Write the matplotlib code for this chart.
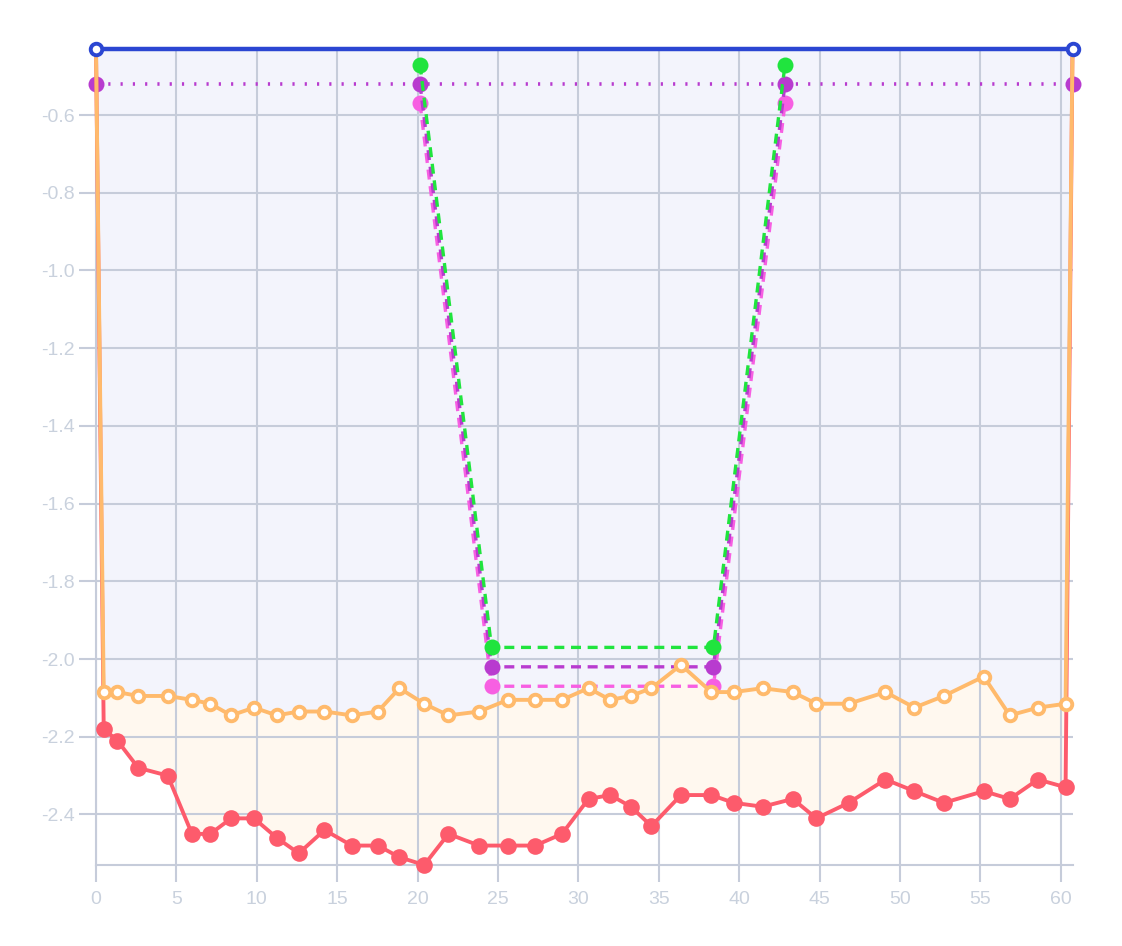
import matplotlib
matplotlib.use("Agg")
import matplotlib.pyplot as plt

plt.rcParams['font.family'] = ['Liberation Sans', 'DejaVu Sans']
plt.rcParams['axes.unicode_minus'] = False

# ==================== data ====================
X_END = 60.73
TOP = -0.43

blue_x = [0, X_END]
blue_y = [TOP, TOP]

band_x = [0.48, 1.33, 2.63, 4.46, 5.97, 7.11, 8.40, 9.83, 11.24, 12.61,
          14.21, 15.91, 17.53, 18.87, 20.41, 21.92, 23.83, 25.62, 27.32, 28.98,
          30.63, 31.98, 33.27, 34.54, 36.38, 38.27, 39.66, 41.46, 43.33, 44.80,
          46.81, 49.10, 50.90, 52.73, 55.21, 56.83, 58.58, 60.30]
orange_y = [-2.085, -2.085, -2.095, -2.095, -2.105, -2.115, -2.145, -2.125, -2.145, -2.135,
            -2.135, -2.145, -2.135, -2.075, -2.115, -2.145, -2.135, -2.105, -2.105, -2.105,
            -2.075, -2.105, -2.095, -2.075, -2.015, -2.085, -2.085, -2.075, -2.085, -2.115,
            -2.115, -2.085, -2.125, -2.095, -2.045, -2.145, -2.125, -2.115]
red_y = [-2.18, -2.21, -2.28, -2.30, -2.45, -2.45, -2.41, -2.41, -2.46, -2.50,
         -2.44, -2.48, -2.48, -2.51, -2.53, -2.45, -2.48, -2.48, -2.48, -2.45,
         -2.36, -2.35, -2.38, -2.43, -2.35, -2.35, -2.37, -2.38, -2.36, -2.41,
         -2.37, -2.31, -2.34, -2.37, -2.34, -2.36, -2.31, -2.33]

dot_x = [0, X_END]
dot_y = [-0.52, -0.52]

trap_x = [20.15, 24.6, 38.4, 42.85]
green_y = [-0.47, -1.97, -1.97, -0.47]
purple_y = [-0.52, -2.02, -2.02, -0.52]
magenta_y = [-0.57, -2.07, -2.07, -0.57]

x_ticks = list(range(0, 61, 5))
y_ticks = [-0.6, -0.8, -1.0, -1.2, -1.4, -1.6, -1.8, -2.0, -2.2, -2.4]

# ==================== colours ====================
GRID = '#c6ccda'
LABEL = '#c9d1dd'
BLUE = '#2b46d2'
ORANGE = '#ffba6c'
RED = '#fd5b6c'
GREEN = '#20e43e'
PURPLE = '#b83bcf'
MAGENTA = '#f75fe2'

# full series, closed at the top corners
ox = [0] + band_x + [X_END]
oy = [TOP] + orange_y + [TOP]
rx = [0] + band_x + [X_END]
ry = [TOP] + red_y + [TOP]
inner = list(range(1, len(ox) - 1))

fig = plt.figure(figsize=(11.22, 9.46), dpi=100)
ax = fig.add_axes([96 / 1122, 1 - 865 / 946, (1072.5 - 96) / 1122, (865 - 49) / 946])

# --- fills ---
ax.fill(blue_x + ox[::-1], blue_y + oy[::-1], color='#f3f4fc', lw=0, zorder=0.2)
ax.fill(ox + rx[::-1], oy + ry[::-1], color='#fff8ef', lw=0, zorder=0.3)

# --- trapezoids ---
dash = (3, 2)
for ys, c in [(magenta_y, MAGENTA), (purple_y, PURPLE), (green_y, GREEN)]:
    ax.plot(trap_x, ys, color=c, lw=2.4, dashes=dash, marker='o', ms=11.5,
            mew=0, zorder=3)

ax.plot(dot_x, dot_y, color=PURPLE, lw=2.6, dashes=(0.6, 2.8),
        dash_capstyle='butt', marker='o', ms=11.5, mew=0, zorder=3, clip_on=False)

# --- band lines ---
ax.plot(rx, ry, color=RED, lw=2.8, marker='o', ms=12, mew=0, zorder=4,
        markevery=inner, clip_on=False)
ax.plot(ox, oy, color=ORANGE, lw=2.8, marker='o', ms=8.3, mfc='white',
        mec=ORANGE, mew=2.8, zorder=5, markevery=inner, clip_on=False)
ax.plot(blue_x, blue_y, color=BLUE, lw=3.2, marker='o', ms=8.3, mfc='white',
        mec=BLUE, mew=2.8, zorder=6, clip_on=False)

# --- axes styling ---
ax.set_xlim(0, X_END)
ax.set_ylim(min(red_y), TOP)
ax.set_xticks(x_ticks)
ax.set_yticks(y_ticks)
ax.set_yticklabels([f'{v:.1f}' for v in y_ticks])
ax.grid(True, color=GRID, lw=1.5)
ax.set_axisbelow(True)
ax.tick_params(length=12, width=1.5, color=GRID, labelcolor=LABEL, labelsize=14)
ax.tick_params(axis='x', pad=7)
ax.tick_params(axis='y', pad=3)
for s in ['top', 'right']:
    ax.spines[s].set_visible(False)
for s in ['left', 'bottom']:
    ax.spines[s].set_color(GRID)
    ax.spines[s].set_linewidth(1.5)
ax.set_facecolor('white')

fig.savefig('out.png', dpi=100)
